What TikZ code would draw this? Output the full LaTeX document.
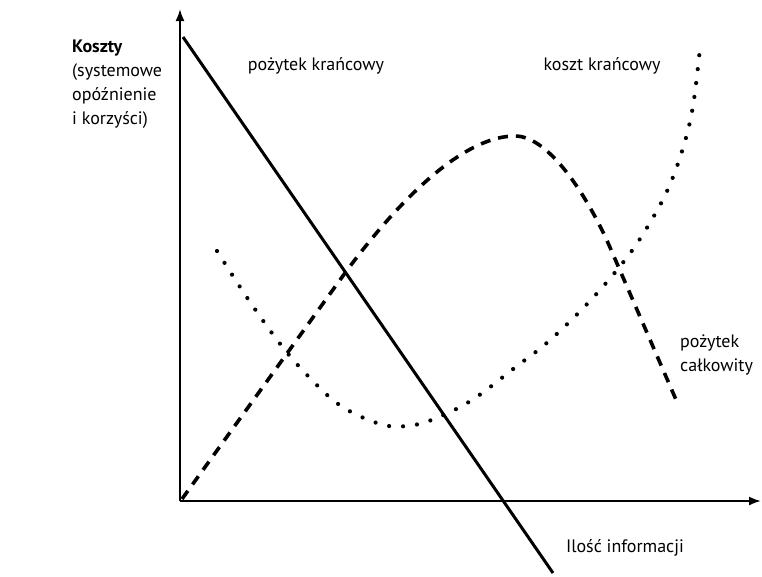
\documentclass[tikz,border=0pt]{standalone}
\usepackage{fontspec}
\setmainfont{PT Sans}
\usetikzlibrary{arrows.meta}
\begin{document}
\begin{tikzpicture}[x=1pt,y=-1pt,
  axis/.style={line width=2pt,-{Latex[length=12pt,width=9pt]}},
  solidcurve/.style={line width=3pt},
  dashcurve/.style={line width=3.6pt,dash pattern=on 10pt off 8pt},
  dotcurve/.style={line width=4.2pt,line cap=round,dash pattern=on 0pt off 14pt},
  lbl/.style={font=\fontsize{18}{24}\selectfont,inner sep=0pt}]
\useasboundingbox (0,0) rectangle (762,576);
\fill[white] (0,0) rectangle (762,576);

% axes
\coordinate (O) at (180,501);
\coordinate (ytip) at (180,9);
\coordinate (xtip) at (761,501);
\draw[axis] (O) -- (ytip);
\draw[axis] (O) -- (xtip);

% marginal benefit (straight line)
\coordinate (s1) at (183,37);
\coordinate (s2) at (553,573);
\draw[solidcurve] (s1) -- (s2);

% total benefit (dashed)
\draw[dashcurve] (182,499) -- (345,273)
  .. controls (410,185) and (470,136) .. (515,136)
  .. controls (550,136) and (590,200) .. (612,252)
  -- (677,402);

% marginal cost (dotted)
\draw[dotcurve] plot[smooth,tension=0.6] coordinates {
  (217,251) (248,299) (281,345) (309,377) (341,406) (380,424) (407,426)
  (434,419) (472,400) (517,366) (549,341) (589,302) (625,260) (648,226)
  (668,189) (683,148) (693,106) (700,48)};

% labels
\node[lbl,anchor=north west,align=left] (ylab) at (72,40)
  {\textbf{Koszty}\\(systemowe\\opóźnienie\\i korzyści)};
\node[lbl] (mb) at (316,66) {pożytek krańcowy};
\node[lbl] (mc) at (602,66) {koszt krańcowy};
\node[lbl,anchor=north west,align=left] (tb) at (680,335) {pożytek\\całkowity};
\node[lbl] (xlab) at (625,548) {Ilość informacji};
\end{tikzpicture}
\end{document}
